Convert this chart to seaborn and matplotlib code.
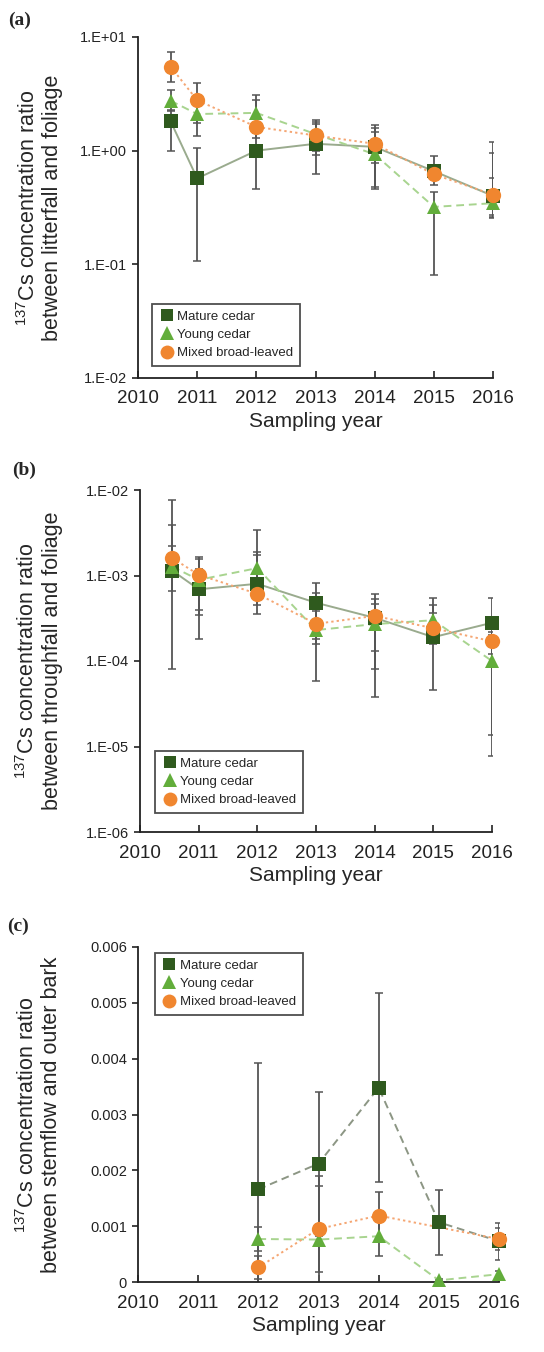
import numpy as np
import pandas as pd
import matplotlib
matplotlib.use("Agg")
import matplotlib.pyplot as plt
import matplotlib.ticker as mticker
from matplotlib.lines import Line2D
import seaborn as sns

# ---------------- data ----------------
years_ab = [2010.55, 2011, 2012, 2013, 2014, 2015, 2016]
years_c = [2012, 2013, 2014, 2015, 2016]
year_ticks = [2010, 2011, 2012, 2013, 2014, 2015, 2016]
series_names = ["Mature cedar", "Young cedar", "Mixed broad-leaved"]

# (a) litterfall / foliage : value, lower bound, upper bound
a_mature = [1.82, 0.57, 1.00, 1.15, 1.08, 0.66, 0.40]
a_mature_lo = [0.99, 0.107, 0.46, 0.62, 0.48, 0.62, 0.255]
a_mature_hi = [2.30, 1.05, 1.43, 1.73, 1.58, 0.73, 1.18]
a_young = [2.75, 2.10, 2.15, 1.40, 0.93, 0.32, 0.345]
a_young_lo = [2.25, 1.34, 1.55, 0.92, 0.46, 0.08, 0.27]
a_young_hi = [3.45, 2.90, 3.10, 1.78, 1.45, 0.43, 0.57]
a_mixed = [5.50, 2.78, 1.62, 1.36, 1.15, 0.62, 0.41]
a_mixed_lo = [4.00, 1.75, 1.30, 0.99, 0.78, 0.50, 0.26]
a_mixed_hi = [7.40, 3.90, 2.80, 1.85, 1.69, 0.89, 0.95]

# (b) throughfall / foliage
b_mature = [1.14e-3, 6.9e-4, 8.0e-4, 4.8e-4, 3.2e-4, 1.9e-4, 2.8e-4]
b_mature_lo = [8.0e-5, 1.8e-4, 4.5e-4, 1.58e-4, 3.8e-5, 4.6e-5, 1.38e-5]
b_mature_hi = [7.7e-3, 1.2e-3, 1.9e-3, 8.1e-4, 6.1e-4, 5.4e-4, 5.4e-4]
b_young = [1.27e-3, 8.9e-4, 1.22e-3, 2.3e-4, 2.7e-4, 3.0e-4, 1.0e-4]
b_young_lo = [6.5e-4, 3.46e-4, 6.0e-4, 5.8e-5, 8.1e-5, 1.7e-4, 7.8e-6]
b_young_hi = [3.9e-3, 1.55e-3, 3.37e-3, 6.2e-4, 5.3e-4, 4.5e-4, 2.0e-4]
b_mixed = [1.60e-3, 1.02e-3, 6.1e-4, 2.72e-4, 3.37e-4, 2.42e-4, 1.7e-4]
b_mixed_lo = [1.1e-3, 4.0e-4, 3.5e-4, 1.8e-4, 1.3e-4, 1.6e-4, 1.2e-4]
b_mixed_hi = [2.2e-3, 1.63e-3, 1.75e-3, 3.8e-4, 4.6e-4, 3.6e-4, 2.2e-4]

# (c) stemflow / outer bark : value and symmetric error
c_mature = [0.00166, 0.00212, 0.00348, 0.00107, 0.00073]
c_mature_err = [0.00227, 0.00129, 0.00169, 0.00058, 0.00033]
c_young = [0.00077, 0.00076, 0.00082, 0.00003, 0.00014]
c_young_err = [0.00021, 0.00114, 0.00036, 0.00002, 0.00005]
c_mixed = [0.00026, 0.00095, 0.00119, np.nan, 0.00077]
c_mixed_err = [0.00020, 0.00077, 0.00042, np.nan, 0.00020]

# ---------------- style ----------------
sns.set_style("ticks")
plt.rcParams["font.family"] = ["Liberation Sans", "DejaVu Sans"]
plt.rcParams["mathtext.fontset"] = "custom"
plt.rcParams["mathtext.rm"] = "Liberation Sans"

marker_colors = ["#2f5a1e", "#62ad3b", "#f0862f"]
line_colors = ["#9aab8e", "#a8d48f", "#f5a673"]
markers = ["s", "^", "o"]
marker_sizes = [10, 10.5, 11]
ebar_color = "#555555"

W, H = 544, 1352
fig = plt.figure(figsize=(W / 100, H / 100), dpi=100)


def axes_px(left, top, right, bottom):
    return fig.add_axes([left / W, 1 - bottom / H, (right - left) / W, (bottom - top) / H])


def draw_panel(ax, x, vals, los, his, styles, lcolors):
    for v, lo, hi in zip(vals, los, his):
        v = np.asarray(v, dtype=float)
        yerr = np.vstack([v - np.asarray(lo, float), np.asarray(hi, float) - v])
        ax.errorbar(x, v, yerr=yerr, fmt="none", ecolor=ebar_color, elinewidth=1.3,
                    capsize=3.2, capthick=1.1, zorder=2)
    for i, v in enumerate(vals):
        df = pd.DataFrame({"year": x, "value": v}).dropna()
        sns.lineplot(data=df, x="year", y="value", ax=ax, color=lcolors[i],
                     linestyle=styles[i], linewidth=1.4, zorder=3 + i,
                     estimator=None, sort=False)
        ax.plot(df["year"], df["value"], linestyle="none", marker=markers[i],
                markersize=marker_sizes[i], color=marker_colors[i],
                markeredgewidth=0, zorder=6 + i, clip_on=False)


def finish_axes(ax, ylabel_lines, label_x):
    ax.set_xlim(2010, 2016)
    ax.set_xticks(year_ticks)
    ax.set_xticklabels([str(y) for y in year_ticks])
    sns.despine(ax=ax)
    for s in ("left", "bottom"):
        ax.spines[s].set_linewidth(1.3)
        ax.spines[s].set_color("#222222")
    ax.tick_params(axis="x", direction="in", length=5, width=1.2, labelsize=13.5,
                   pad=9, colors="#222222")
    ax.tick_params(axis="y", direction="out", length=4, width=1.2, labelsize=10.5,
                   pad=4, colors="#222222")
    ax.set_xlabel("Sampling year", fontsize=15, labelpad=3)
    ax.set_ylabel(ylabel_lines, fontsize=15.5, linespacing=1.15)
    ax.yaxis.set_label_coords(label_x, 0.5)


def add_legend(ax, loc, anchor):
    handles = [Line2D([0], [0], linestyle="none", marker=markers[i],
                      markersize=marker_sizes[i] - 1, color=marker_colors[i],
                      markeredgewidth=0) for i in range(3)]
    leg = ax.legend(handles, series_names, loc=loc, bbox_to_anchor=anchor,
                    borderaxespad=0, fontsize=9.5, frameon=True, fancybox=False,
                    handletextpad=0.2, labelspacing=0.45, handlelength=1.2, borderpad=0.5)
    leg.get_frame().set_edgecolor("#222222")
    leg.get_frame().set_linewidth(1.3)


def log_formatter(v, pos):
    e = int(round(np.log10(v)))
    return f"1.E{e:+03d}"


ab_styles = ["-", (0, (4, 2.5)), (0, (1.2, 1.6))]

# ---------------- panel (a) ----------------
ax_a = axes_px(138, 37, 493, 378)
draw_panel(ax_a, years_ab, [a_mature, a_young, a_mixed],
           [a_mature_lo, a_young_lo, a_mixed_lo], [a_mature_hi, a_young_hi, a_mixed_hi],
           ab_styles, line_colors)
ax_a.set_yscale("log")
ax_a.set_ylim(1e-2, 1e1)
ax_a.yaxis.set_major_locator(mticker.FixedLocator([1e-2, 1e-1, 1e0, 1e1]))
ax_a.yaxis.set_minor_locator(mticker.NullLocator())
ax_a.yaxis.set_major_formatter(mticker.FuncFormatter(log_formatter))
finish_axes(ax_a, "$^{\\mathrm{137}}$Cs concentration ratio\nbetween litterfall and foliage", -0.21)
add_legend(ax_a, "lower left", (0.04, 0.036))

# ---------------- panel (b) ----------------
ax_b = axes_px(140, 490, 492, 832)
draw_panel(ax_b, years_ab, [b_mature, b_young, b_mixed],
           [b_mature_lo, b_young_lo, b_mixed_lo], [b_mature_hi, b_young_hi, b_mixed_hi],
           ab_styles, line_colors)
ax_b.set_yscale("log")
ax_b.set_ylim(1e-6, 1e-2)
ax_b.yaxis.set_major_locator(mticker.FixedLocator([1e-6, 1e-5, 1e-4, 1e-3, 1e-2]))
ax_b.yaxis.set_minor_locator(mticker.NullLocator())
ax_b.yaxis.set_major_formatter(mticker.FuncFormatter(log_formatter))
finish_axes(ax_b, "$^{\\mathrm{137}}$Cs concentration ratio\nbetween throughfall and foliage", -0.22)
add_legend(ax_b, "lower left", (0.043, 0.056))

# ---------------- panel (c) ----------------
ax_c = axes_px(138, 947, 499, 1282)
for v, e in zip([c_mature, c_young, c_mixed], [c_mature_err, c_young_err, c_mixed_err]):
    ax_c.errorbar(years_c, v, yerr=e, fmt="none", ecolor=ebar_color, elinewidth=1.3,
                  capsize=3.2, capthick=1.1, zorder=2)
c_styles = [(0, (4, 2.5)), (0, (4, 2.5)), (0, (1.2, 1.6))]
c_line_colors = ["#8c9684", line_colors[1], line_colors[2]]
for i, v in enumerate([c_mature, c_young, c_mixed]):
    df = pd.DataFrame({"year": years_c, "value": v}).dropna()
    sns.lineplot(data=df, x="year", y="value", ax=ax_c, color=c_line_colors[i],
                 linestyle=c_styles[i], linewidth=1.4, zorder=3 + i,
                 estimator=None, sort=False)
    ax_c.plot(df["year"], df["value"], linestyle="none", marker=markers[i],
              markersize=marker_sizes[i], color=marker_colors[i],
              markeredgewidth=0, zorder=6 + i, clip_on=False)
ax_c.set_ylim(0, 0.006)
ax_c.set_yticks([0, 0.001, 0.002, 0.003, 0.004, 0.005, 0.006])
ax_c.set_yticklabels(["0", "0.001", "0.002", "0.003", "0.004", "0.005", "0.006"])
finish_axes(ax_c, "$^{\\mathrm{137}}$Cs concentration ratio\nbetween stemflow and outer bark", -0.21)
add_legend(ax_c, "upper left", (0.047, 0.982))

# panel letters
for label, (px, py) in zip(["(a)", "(b)", "(c)"], [(20, 20), (24, 470), (18, 926)]):
    fig.text(px / W, 1 - py / H, label, ha="center", va="center", fontsize=14,
             fontweight="bold", family=["Liberation Serif", "DejaVu Serif"])

fig.savefig("out.png", dpi=100, facecolor="white")
